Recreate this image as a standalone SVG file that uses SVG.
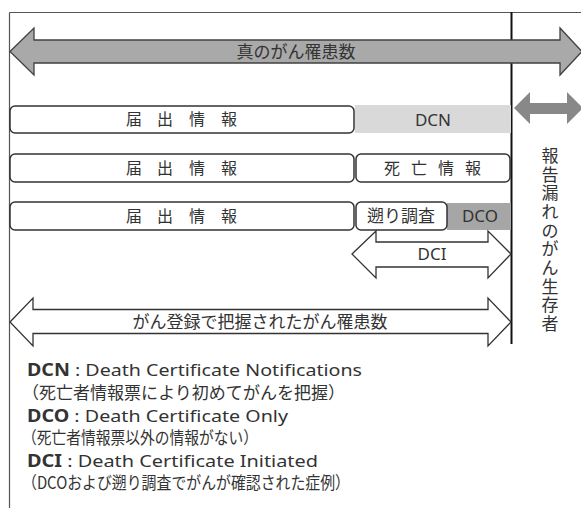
<svg xmlns="http://www.w3.org/2000/svg" width="581" height="510" viewBox="0 0 581 510">
<style>
.jp{font-family:"Noto Sans CJK JP","Noto Sans",sans-serif;fill:#333;}
.en{font-family:"Noto Sans","Noto Sans CJK JP",sans-serif;fill:#333;}
.c{text-anchor:middle;}
.box{fill:#fff;stroke:#333;stroke-width:1.5;}
.frame{stroke:#555;stroke-width:1.2;fill:none;}
.outline{fill:#fff;stroke:#333;stroke-width:1.3;stroke-linejoin:miter;}
</style>
<rect width="581" height="510" fill="#fff"/>
<g id="frame">
<line class="frame" x1="9.5" y1="12.5" x2="581" y2="12.5"/>
<line class="frame" x1="9.5" y1="12.5" x2="9.5" y2="508"/>
<line x1="511.5" y1="12" x2="511.5" y2="344" stroke="#111" stroke-width="2"/>
</g>
<g id="row1">
<rect class="box" x="10" y="106" width="344" height="27" rx="5"/>
<text class="jp c" font-size="16" y="125" x="134 165 197 229">届出情報</text>
<rect id="dcn" x="355" y="105" width="156" height="28" fill="#d9d9d9"/>
<text class="en c" font-size="17" x="433" y="125.5">DCN</text>
</g>
<g id="row2">
<rect class="box" x="10" y="154" width="344" height="28" rx="5"/>
<text class="jp c" font-size="16" y="173.5" x="134 165 197 229">届出情報</text>
<rect class="box" x="356" y="154" width="154" height="28" rx="5"/>
<text class="jp c" font-size="16" y="173.5" x="392 419 446 473">死亡情報</text>
</g>
<g id="row3">
<rect class="box" x="10" y="202" width="344" height="28" rx="5"/>
<text class="jp c" font-size="16" y="221.5" x="134 165 197 229">届出情報</text>
<rect id="dco" x="447" y="203" width="64" height="27" fill="#a6a6a6"/>
<rect class="box" x="356" y="202" width="91" height="28" rx="5"/>
<text class="jp c" font-size="17" x="401" y="222">遡り調査</text>
<text class="en c" font-size="17" x="480" y="222">DCO</text>
</g>
<g id="connectors">
<polygon points="10,51.5 34,28 34,40 560,40 560,28 582,51.5 560,75 560,63 34,63 34,75" fill="#a9a9a9" stroke="#404040" stroke-width="1.3"/>
<text class="jp c" font-size="17" x="296" y="57.5">真のがん罹患数</text>
<polygon points="514,108 530,92 530,103 567,103 567,92 583,108 567,124 567,114 530,114 530,124" fill="#888"/>
<polygon class="outline" points="352,254 376,231 376,242 488,242 488,231 511,254 488,278 488,267 376,267 376,278"/>
<text class="en c" font-size="17" x="432" y="260">DCI</text>
<polygon class="outline" points="10,322 33,298 33,309.5 488,309.5 488,298 511,322 488,346 488,333.5 33,333.5 33,346"/>
<text class="jp c" font-size="17" x="260" y="328">がん登録で把握されたがん罹患数</text>
</g>
<g id="side-label">
<text class="jp c" font-size="17" x="550 550 550 550 550 550 550 550 550 550" y="162 180.7 199.3 218 236.7 255.3 274 292.7 311.3 330">報告漏れのがん生存者</text>
</g>
<g id="legend">
<text class="en" font-size="17" x="27" y="376" textLength="335" lengthAdjust="spacingAndGlyphs"><tspan font-weight="bold">DCN</tspan> : Death Certificate Notifications</text>
<text class="jp" font-size="17" x="22" y="399" textLength="323" lengthAdjust="spacingAndGlyphs">（死亡者情報票により初めてがんを把握）</text>
<text class="en" font-size="17" x="27" y="422" textLength="261" lengthAdjust="spacingAndGlyphs"><tspan font-weight="bold">DCO</tspan> : Death Certificate Only</text>
<text class="jp" font-size="17" x="22" y="444" textLength="236" lengthAdjust="spacingAndGlyphs">（死亡者情報票以外の情報がない）</text>
<text class="en" font-size="17" x="27" y="467" textLength="291" lengthAdjust="spacingAndGlyphs"><tspan font-weight="bold">DCI</tspan> : Death Certificate Initiated</text>
<text class="jp" font-size="17" x="22" y="489" textLength="328" lengthAdjust="spacingAndGlyphs">（DCOおよび遡り調査でがんが確認された症例）</text>
</g>
</svg>
